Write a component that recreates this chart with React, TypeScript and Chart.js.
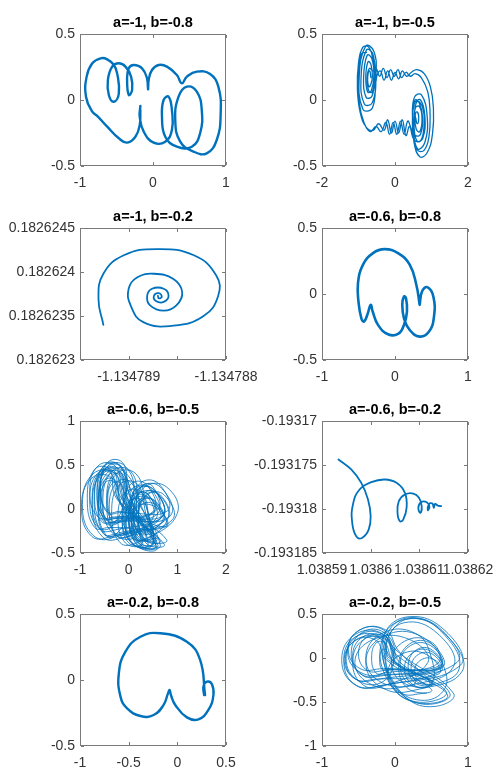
import { useEffect, useRef } from 'react';
import { Chart, registerables } from 'chart.js';

Chart.register(...registerables);

type Pt = [number, number];

// ---- phase portraits (x, y) ----
const orbitA1B08: Pt[] = [
  [-0.173, -0.045], [-0.182, -0.126], [-0.127, -0.24], [0.009, -0.323], [0.168, -0.316], [0.259, -0.227],
  [0.259, -0.076], [0.214, 0.025], [0.145, 0.0], [0.123, -0.126], [0.168, -0.278], [0.327, -0.354],
  [0.532, -0.354], [0.645, -0.253], [0.668, -0.076], [0.6, 0.063], [0.464, 0.101], [0.35, 0.025],
  [0.305, -0.152], [0.373, -0.316], [0.555, -0.391], [0.736, -0.404], [0.873, -0.303], [0.927, -0.101],
  [0.895, 0.101], [0.782, 0.197], [0.6, 0.215], [0.464, 0.177], [0.395, 0.126], [0.327, 0.189],
  [0.191, 0.253], [0.077, 0.265], [-0.014, 0.227], [-0.059, 0.152], [-0.068, 0.081], [-0.082, 0.164],
  [-0.15, 0.24], [-0.264, 0.265], [-0.332, 0.24], [-0.355, 0.152], [-0.332, 0.038], [-0.286, 0.076],
  [-0.3, 0.177], [-0.377, 0.253], [-0.468, 0.278], [-0.559, 0.253], [-0.618, 0.152], [-0.605, 0.038],
  [-0.536, -0.013], [-0.468, 0.051], [-0.491, 0.202], [-0.536, 0.265], [-0.627, 0.308], [-0.718, 0.316],
  [-0.832, 0.278], [-0.909, 0.177], [-0.918, 0.025], [-0.832, -0.088], [-0.755, -0.126], [-0.627, -0.202],
  [-0.468, -0.29], [-0.355, -0.323], [-0.241, -0.278], [-0.182, -0.189], [-0.173, -0.076],
];

const orbitA1B05: Pt[] = [
  [-0.66, 0.17], [-0.69, 0.22], [-0.73, 0.21], [-0.75, 0.15], [-0.71, 0.1], [-0.66, 0.12],
  [-0.62, 0.18], [-0.66, 0.27], [-0.74, 0.29], [-0.8, 0.17], [-0.75, 0.06], [-0.65, 0.07],
  [-0.58, 0.18], [-0.63, 0.31], [-0.76, 0.34], [-0.86, 0.17], [-0.79, 0.02], [-0.63, 0.03],
  [-0.55, 0.19], [-0.61, 0.35], [-0.78, 0.38], [-0.93, 0.17], [-0.84, -0.03], [-0.62, -0.02],
  [-0.52, 0.2], [-0.58, 0.37], [-0.8, 0.41], [-0.98, 0.18], [-0.88, -0.07], [-0.62, -0.06],
  [-0.5, 0.18], [-0.4, 0.22], [-0.3, 0.15], [-0.2, 0.22], [-0.1, 0.15], [0.0, 0.21], [0.1, 0.16],
  [0.2, 0.22], [0.32, 0.18], [0.45, 0.21], [0.6, 0.23], [0.8, 0.2], [0.97, 0.1], [1.05, -0.05],
  [1.03, -0.25], [0.88, -0.4], [0.68, -0.43], [0.52, -0.32], [0.48, -0.15],
  [0.53, 0.02], [0.72, 0.04], [0.88, -0.12], [0.82, -0.32], [0.62, -0.37], [0.5, -0.22],
  [0.53, -0.03], [0.7, 0.0], [0.82, -0.13], [0.76, -0.29], [0.6, -0.31], [0.52, -0.18],
  [0.56, -0.06], [0.67, -0.05], [0.74, -0.14], [0.68, -0.24], [0.58, -0.22], [0.55, -0.13],
  [0.6, -0.09], [0.65, -0.13], [0.61, -0.18], [0.57, -0.14],
  [0.54, -0.08], [0.62, -0.01], [0.76, -0.06], [0.8, -0.18], [0.7, -0.31], [0.52, -0.3],
  [0.4, -0.2], [0.3, -0.27], [0.2, -0.15], [0.1, -0.25], [0.0, -0.16], [-0.1, -0.25], [-0.2, -0.15],
  [-0.3, -0.23], [-0.45, -0.18], [-0.6, -0.23], [-0.78, -0.21], [-0.95, -0.1], [-1.03, 0.08],
  [-1.0, 0.28], [-0.88, 0.4], [-0.72, 0.4], [-0.6, 0.3], [-0.56, 0.18], [-0.62, 0.06], [-0.72, 0.07],
  [-0.76, 0.17], [-0.7, 0.24], [-0.6, 0.22], [-0.52, 0.24], [-0.42, 0.18], [-0.32, 0.24], [-0.22, 0.17],
  [-0.12, 0.23], [-0.02, 0.18], [0.08, 0.23], [0.18, 0.17], [0.3, 0.21], [0.42, 0.18], [0.55, 0.2],
  [0.72, 0.17], [0.9, 0.06], [0.96, -0.1], [0.93, -0.28], [0.8, -0.38], [0.62, -0.38], [0.5, -0.26],
  [0.48, -0.1], [0.55, 0.0], [0.66, -0.02], [0.75, -0.12], [0.7, -0.26], [0.56, -0.27], [0.45, -0.22],
  [0.35, -0.16], [0.25, -0.26], [0.15, -0.16], [0.05, -0.26], [-0.05, -0.17], [-0.15, -0.26],
  [-0.25, -0.17], [-0.38, -0.24], [-0.52, -0.2], [-0.68, -0.24], [-0.85, -0.17], [-0.98, -0.02],
  [-1.0, 0.2], [-0.92, 0.35], [-0.78, 0.36],
];

const orbitA1B02: Pt[] = [
  [-1.13478926, 0.1826234], [-1.13478931, 0.18262369], [-1.13478926, 0.18262398], [-1.13478905, 0.18262419],
  [-1.13478871, 0.18262426], [-1.13478833, 0.18262419], [-1.1347881, 0.18262396], [-1.13478808, 0.18262373],
  [-1.13478823, 0.1826235], [-1.13478854, 0.18262339], [-1.13478885, 0.18262343], [-1.13478898, 0.18262362],
  [-1.134789, 0.18262381], [-1.13478891, 0.18262394], [-1.13478874, 0.18262398], [-1.13478854, 0.18262392],
  [-1.13478845, 0.18262377], [-1.13478851, 0.18262362], [-1.13478864, 0.18262356], [-1.13478878, 0.18262362],
  [-1.13478881, 0.18262373], [-1.13478876, 0.18262381], [-1.13478864, 0.18262381], [-1.13478859, 0.18262373],
  [-1.13478864, 0.18262366], [-1.13478872, 0.18262367], [-1.13478874, 0.18262373], [-1.13478869, 0.18262376],
  [-1.13478866, 0.18262372], [-1.13478869, 0.1826237], [-1.1347887, 0.18262373],
];

const orbitA06B08: Pt[] = [
  [0.338, -0.082], [0.292, 0.07], [0.201, 0.222], [0.041, 0.31], [-0.142, 0.34], [-0.301, 0.31],
  [-0.438, 0.222], [-0.507, 0.082], [-0.498, -0.07], [-0.461, -0.184], [-0.425, -0.209], [-0.379, -0.158],
  [-0.333, -0.082], [-0.306, -0.133], [-0.233, -0.234], [-0.096, -0.305], [0.041, -0.303], [0.123, -0.234],
  [0.164, -0.133], [0.151, -0.032], [0.123, -0.019], [0.1, -0.082], [0.123, -0.184], [0.201, -0.272],
  [0.338, -0.323], [0.466, -0.285], [0.534, -0.171], [0.525, -0.019], [0.443, 0.052], [0.37, 0.019],
  [0.338, -0.082],
];

const orbitA06B05: Pt[] = [
  [-0.05, 0.15], [-0.2, 0.45], [-0.5, 0.45], [-0.65, 0.15], [-0.5, -0.15], [-0.2, -0.15],
  [-0.05, 0.1], [-0.22, 0.43], [-0.58, 0.43], [-0.75, 0.1], [-0.58, -0.23], [-0.22, -0.23],
  [0.7, -0.08], [0.52, 0.22], [0.18, 0.22], [0.0, -0.08], [0.18, -0.38], [0.52, -0.38],
  [-0.05, 0.12], [-0.18, 0.38], [-0.43, 0.38], [-0.55, 0.12], [-0.43, -0.14], [-0.18, -0.14],
  [0.6, -0.05], [0.45, 0.23], [0.15, 0.23], [0.0, -0.05], [0.15, -0.33], [0.45, -0.33],
  [0.35, -0.05], [0.18, 0.28], [-0.18, 0.28], [-0.35, -0.05], [-0.18, -0.38], [0.18, -0.38],
  [0.8, -0.12], [0.6, 0.17], [0.2, 0.17], [0.0, -0.12], [0.2, -0.41], [0.6, -0.41],
  [-0.05, 0.05], [-0.28, 0.4], [-0.73, 0.4], [-0.95, 0.05], [-0.73, -0.3], [-0.28, -0.3],
  [0.1, 0.18], [-0.08, 0.49], [-0.43, 0.49], [-0.6, 0.18], [-0.43, -0.13], [-0.08, -0.13],
  [0.2, 0.0], [0.05, 0.3], [-0.25, 0.3], [-0.4, 0.0], [-0.25, -0.3], [0.05, -0.3],
  [0.5, -0.1], [0.38, 0.14], [0.13, 0.14], [0.0, -0.1], [0.13, -0.34], [0.38, -0.34],
  [1.0, -0.05], [0.78, 0.25], [0.33, 0.25], [0.1, -0.05], [0.33, -0.35], [0.78, -0.35],
  [-0.18, 0.08], [-0.28, 0.3], [-0.48, 0.3], [-0.58, 0.08], [-0.48, -0.14], [-0.28, -0.14],
  [0.15, 0.05], [-0.08, 0.42], [-0.53, 0.42], [-0.75, 0.05], [-0.53, -0.32], [-0.08, -0.32],
  [0.68, -0.15], [0.49, 0.11], [0.11, 0.11], [-0.08, -0.15], [0.11, -0.41], [0.49, -0.41],
  [0.42, -0.1], [0.26, 0.19], [-0.06, 0.19], [-0.22, -0.1], [-0.06, -0.39], [0.26, -0.39],
  [-0.14, 0.14], [-0.28, 0.42], [-0.56, 0.42], [-0.7, 0.14], [-0.56, -0.14], [-0.28, -0.14],
  [0.6, 0.0], [0.49, 0.26], [0.27, 0.26], [0.16, 0.0], [0.27, -0.26], [0.49, -0.26],
  [0.05, 0.1], [-0.14, 0.48], [-0.52, 0.48], [-0.71, 0.1], [-0.52, -0.28], [-0.14, -0.28],
  [0.7, -0.08], [0.49, 0.23], [0.07, 0.23], [-0.14, -0.08], [0.07, -0.39], [0.49, -0.39],
  [0.35, 0.05], [0.15, 0.4], [-0.25, 0.4], [-0.45, 0.05], [-0.25, -0.3], [0.15, -0.3],
  [0.05, 0.12], [-0.08, 0.38], [-0.33, 0.38], [-0.45, 0.12], [-0.33, -0.14], [-0.08, -0.14],
  [0.8, -0.1], [0.65, 0.16], [0.35, 0.16], [0.2, -0.1], [0.35, -0.36], [0.65, -0.36],
  [-0.2, 0.1], [-0.35, 0.4], [-0.65, 0.4], [-0.8, 0.1], [-0.65, -0.2], [-0.35, -0.2],
  [-0.05, 0.2], [-0.2, 0.5], [-0.5, 0.5], [-0.65, 0.2], [-0.5, -0.1], [-0.2, -0.1],
  [0.63, -0.12], [0.49, 0.1], [0.21, 0.1], [0.07, -0.12], [0.21, -0.34], [0.49, -0.34],
  [0.43, -0.15], [0.29, 0.09], [0.01, 0.09], [-0.13, -0.15], [0.01, -0.39], [0.29, -0.39],
  [-0.13, 0.02], [-0.34, 0.35], [-0.76, 0.35], [-0.97, 0.02], [-0.76, -0.31], [-0.34, -0.31],
  [0.85, -0.08], [0.65, 0.25], [0.25, 0.25], [0.05, -0.08], [0.25, -0.41], [0.65, -0.41],
  [0.02, 0.25], [-0.13, 0.53], [-0.43, 0.53], [-0.58, 0.25], [-0.43, -0.03], [-0.13, -0.03],
  [0.75, -0.2], [0.58, 0.04], [0.23, 0.04], [0.05, -0.2], [0.23, -0.44], [0.58, -0.44],
  [-0.18, 0.15], [-0.29, 0.41], [-0.51, 0.41], [-0.62, 0.15], [-0.51, -0.11], [-0.29, -0.11],
  [0.5, -0.05], [0.4, 0.17], [0.2, 0.17], [0.1, -0.05], [0.2, -0.27], [0.4, -0.27],
  [0.02, 0.05], [-0.14, 0.4], [-0.46, 0.4], [-0.62, 0.05], [-0.46, -0.3], [-0.14, -0.3],
  [0.7, -0.15], [0.55, 0.09], [0.25, 0.09], [0.1, -0.15], [0.25, -0.39], [0.55, -0.39],
  [-0.1, 0.2], [-0.28, 0.49], [-0.63, 0.49], [-0.8, 0.2], [-0.63, -0.09], [-0.28, -0.09],
  [0.52, -0.02], [0.36, 0.28], [0.04, 0.28], [-0.12, -0.02], [0.04, -0.32], [0.36, -0.32],
  [-0.07, 0.1], [-0.16, 0.29], [-0.34, 0.29], [-0.43, 0.1], [-0.34, -0.09], [-0.16, -0.09],
  [0.7, -0.08], [0.58, 0.18], [0.33, 0.18], [0.2, -0.08], [0.33, -0.34], [0.58, -0.34],
  [-0.25, 0.12], [-0.4, 0.45], [-0.7, 0.45], [-0.85, 0.12], [-0.7, -0.21], [-0.4, -0.21],
  [0.77, -0.2], [0.56, 0.02], [0.14, 0.02], [-0.07, -0.2], [0.14, -0.42], [0.56, -0.42],
  [0.23, 0.08], [0.04, 0.43], [-0.34, 0.43], [-0.53, 0.08], [-0.34, -0.27], [0.04, -0.27],
  [0.9, -0.12], [0.73, 0.16], [0.38, 0.16], [0.2, -0.12], [0.38, -0.4], [0.73, -0.4],
  [-0.13, 0.02], [-0.26, 0.32], [-0.51, 0.32], [-0.63, 0.02], [-0.51, -0.28], [-0.26, -0.28],
  [0.55, -0.12], [0.4, 0.16], [0.1, 0.16], [-0.05, -0.12], [0.1, -0.4], [0.4, -0.4],
  [-0.02, 0.22], [-0.16, 0.48], [-0.44, 0.48], [-0.58, 0.22], [-0.44, -0.04], [-0.16, -0.04],
  [0.8, -0.02], [0.61, 0.29], [0.23, 0.29], [0.04, -0.02], [0.23, -0.33], [0.61, -0.33],
];

const orbitA06B02: Pt[] = [
  [1.03859338, -0.19317437], [1.038596, -0.19317551], [1.03859807, -0.19317703], [1.03859945, -0.19317892],
  [1.0386, -0.19318082], [1.03859959, -0.19318234], [1.03859821, -0.19318329], [1.03859703, -0.1931831],
  [1.03859621, -0.19318158], [1.03859635, -0.19317949], [1.03859772, -0.19317779], [1.03860014, -0.19317695],
  [1.0386029, -0.19317665], [1.03860531, -0.19317703], [1.03860704, -0.19317817], [1.03860738, -0.19317987],
  [1.03860669, -0.1931812], [1.038606, -0.19318139], [1.03860552, -0.19318044], [1.03860579, -0.19317911],
  [1.03860704, -0.19317836], [1.03860876, -0.19317824], [1.03860993, -0.19317873], [1.03861048, -0.19317968],
  [1.03861021, -0.19318044], [1.03860979, -0.19317987], [1.03861035, -0.19317923], [1.03861152, -0.19317923],
  [1.03861207, -0.19317976], [1.03861173, -0.19318014], [1.038612, -0.19317942], [1.03861269, -0.19317938],
  [1.03861297, -0.19317987], [1.03861324, -0.19317942], [1.03861379, -0.19317961], [1.03861448, -0.19317968],
];

const orbitA02B08: Pt[] = [
  [0.285, -0.114], [0.234, 0.152], [0.098, 0.29], [-0.175, 0.354], [-0.379, 0.328], [-0.533, 0.215],
  [-0.601, 0.051], [-0.584, -0.126], [-0.516, -0.215], [-0.379, -0.273], [-0.243, -0.265], [-0.141, -0.189],
  [-0.096, -0.101], [-0.079, -0.076], [-0.066, -0.114], [-0.021, -0.189], [0.098, -0.283], [0.217, -0.298],
  [0.319, -0.227], [0.371, -0.114], [0.354, -0.03], [0.302, -0.013], [0.268, -0.051], [0.275, -0.114],
];

const orbitA02B05: Pt[] = [
  [0.03, 0.0], [-0.15, 0.26], [-0.5, 0.26], [-0.67, 0.0], [-0.5, -0.26], [-0.15, -0.26],
  [-0.02, 0.02], [-0.16, 0.24], [-0.44, 0.24], [-0.58, 0.02], [-0.44, -0.2], [-0.16, -0.2],
  [0.62, -0.1], [0.51, 0.09], [0.29, 0.09], [0.18, -0.1], [0.29, -0.29], [0.51, -0.29],
  [0.03, -0.02], [-0.16, 0.27], [-0.54, 0.27], [-0.73, -0.02], [-0.54, -0.31], [-0.16, -0.31],
  [0.9, -0.08], [0.7, 0.3], [0.2, 0.47], [-0.15, 0.25], [-0.05, -0.25], [0.35, -0.52], [0.75, -0.4],
  [0.0, 0.05], [-0.13, 0.24], [-0.38, 0.24], [-0.5, 0.05], [-0.38, -0.14], [-0.13, -0.14],
  [0.63, -0.08], [0.49, 0.14], [0.21, 0.14], [0.07, -0.08], [0.21, -0.3], [0.49, -0.3],
  [0.5, 0.0], [0.28, 0.28], [-0.18, 0.28], [-0.4, 0.0], [-0.18, -0.28], [0.28, -0.28],
  [-0.06, 0.0], [-0.22, 0.24], [-0.54, 0.24], [-0.7, 0.0], [-0.54, -0.24], [-0.22, -0.24],
  [0.85, -0.05], [0.62, 0.32], [0.15, 0.44], [-0.18, 0.2], [-0.08, -0.28], [0.3, -0.5], [0.7, -0.38],
  [-0.09, -0.02], [-0.12, 0.09], [-0.18, 0.09], [-0.21, -0.02], [-0.18, -0.13], [-0.12, -0.13],
  [0.62, -0.12], [0.52, 0.04], [0.32, 0.04], [0.22, -0.12], [0.32, -0.28], [0.52, -0.28],
  [0.02, -0.05], [-0.13, 0.21], [-0.43, 0.21], [-0.58, -0.05], [-0.43, -0.31], [-0.13, -0.31],
  [0.45, -0.05], [0.2, 0.21], [-0.3, 0.21], [-0.55, -0.05], [-0.3, -0.31], [0.2, -0.31],
  [0.8, -0.1], [0.58, 0.28], [0.12, 0.4], [-0.12, 0.15], [0.0, -0.3], [0.35, -0.48], [0.68, -0.35],
  [0.65, -0.05], [0.48, 0.19], [0.13, 0.19], [-0.05, -0.05], [0.13, -0.29], [0.48, -0.29],
  [0.05, 0.08], [-0.13, 0.32], [-0.48, 0.32], [-0.65, 0.08], [-0.48, -0.16], [-0.13, -0.16],
  [0.0, 0.05], [-0.15, 0.29], [-0.45, 0.29], [-0.6, 0.05], [-0.45, -0.19], [-0.15, -0.19],
  [0.63, -0.12], [0.51, 0.07], [0.26, 0.07], [0.13, -0.12], [0.26, -0.31], [0.51, -0.31],
  [0.88, -0.12], [0.68, 0.26], [0.25, 0.46], [-0.1, 0.28], [-0.1, -0.2], [0.25, -0.5], [0.72, -0.42],
  [0.0, -0.05], [-0.18, 0.21], [-0.53, 0.21], [-0.7, -0.05], [-0.53, -0.31], [-0.18, -0.31],
  [0.63, -0.15], [0.54, -0.02], [0.36, -0.02], [0.27, -0.15], [0.36, -0.28], [0.54, -0.28],
  [-0.08, 0.0], [-0.14, 0.17], [-0.26, 0.17], [-0.32, 0.0], [-0.26, -0.17], [-0.14, -0.17],
  [0.6, -0.05], [0.35, 0.25], [-0.15, 0.25], [-0.4, -0.05], [-0.15, -0.35], [0.35, -0.35],
  [0.92, -0.15], [0.75, 0.22], [0.3, 0.45], [-0.05, 0.3], [-0.12, -0.1], [0.15, -0.45], [0.55, -0.55], [0.8, -0.4],
  [0.0, 0.1], [-0.16, 0.32], [-0.48, 0.32], [-0.64, 0.1], [-0.48, -0.12], [-0.16, -0.12],
  [0.65, -0.1], [0.5, 0.16], [0.2, 0.16], [0.05, -0.1], [0.2, -0.36], [0.5, -0.36],
  [-0.12, -0.02], [-0.26, 0.2], [-0.54, 0.2], [-0.68, -0.02], [-0.54, -0.24], [-0.26, -0.24],
  [0.6, -0.18], [0.43, 0.04], [0.08, 0.04], [-0.1, -0.18], [0.08, -0.4], [0.43, -0.4],
];

// ---- axis ticks ----
const ticksUnit = [-1, 0, 1];
const ticksTwo = [-2, 0, 2];
const ticksHalf = [-0.5, 0, 0.5];
const ticksHalfToOne = [-0.5, 0, 0.5, 1];
const ticksMinusOneToTwo = [-1, 0, 1, 2];
const ticksMinusOneToHalf = [-1, -0.5, 0, 0.5];
const ticksX3 = [-1.1347895, -1.134789, -1.1347885, -1.134788];
const labelsX3 = ['', '-1.134789', '', '-1.134788'];
const ticksY3 = [0.182623, 0.1826235, 0.182624, 0.1826245];
const ticksX6 = [1.03859, 1.0386, 1.03861, 1.03862];
const ticksY6 = [-0.193185, -0.19318, -0.193175, -0.19317];

const FONT = "'Liberation Sans', Arial, Helvetica, sans-serif";
const LINE_BLUE = '#0072BD';
const TITLE_H = 24;
const BOX_H = 132;
const XAXIS_H = 35;

interface Column { left: number; width: number; axisWidth: number; padRight: number; }
const COL_L: Column = { left: 0, width: 262, axisWidth: 80, padRight: 36 };
const COL_R: Column = { left: 245, width: 248, axisWidth: 77, padRight: 25 };

interface AxisSpec { min: number; max: number; ticks: number[]; labels: string[]; }
interface PanelSpec {
  title: string;
  pts: Pt[];
  lineWidth: number;
  x: AxisSpec;
  y: AxisSpec;
  col: Column;
  boxTop: number;
}

const axis = (min: number, max: number, ticks: number[], labels?: string[]): AxisSpec => ({
  min, max, ticks, labels: labels ?? ticks.map((v) => String(v)),
});

const panels: PanelSpec[] = [
  { title: 'a=-1, b=-0.8', pts: orbitA1B08, lineWidth: 2.4, x: axis(-1, 1, ticksUnit), y: axis(-0.5, 0.5, ticksHalf), col: COL_L, boxTop: 34 },
  { title: 'a=-1, b=-0.5', pts: orbitA1B05, lineWidth: 1.3, x: axis(-2, 2, ticksTwo), y: axis(-0.5, 0.5, ticksHalf), col: COL_R, boxTop: 34 },
  { title: 'a=-1, b=-0.2', pts: orbitA1B02, lineWidth: 1.8, x: axis(-1.1347895, -1.134788, ticksX3, labelsX3), y: axis(0.182623, 0.1826245, ticksY3), col: COL_L, boxTop: 228 },
  { title: 'a=-0.6, b=-0.8', pts: orbitA06B08, lineWidth: 2.6, x: axis(-1, 1, ticksUnit), y: axis(-0.5, 0.5, ticksHalf), col: COL_R, boxTop: 228 },
  { title: 'a=-0.6, b=-0.5', pts: orbitA06B05, lineWidth: 0.8, x: axis(-1, 2, ticksMinusOneToTwo), y: axis(-0.5, 1, ticksHalfToOne), col: COL_L, boxTop: 421 },
  { title: 'a=-0.6, b=-0.2', pts: orbitA06B02, lineWidth: 1.8, x: axis(1.03859, 1.03862, ticksX6), y: axis(-0.193185, -0.19317, ticksY6), col: COL_R, boxTop: 421 },
  { title: 'a=-0.2, b=-0.8', pts: orbitA02B08, lineWidth: 2.4, x: axis(-1, 0.5, ticksMinusOneToHalf), y: axis(-0.5, 0.5, ticksHalf), col: COL_L, boxTop: 614 },
  { title: 'a=-0.2, b=-0.5', pts: orbitA02B05, lineWidth: 0.8, x: axis(-1, 1, ticksUnit), y: axis(-1, 0.5, ticksMinusOneToHalf), col: COL_R, boxTop: 614 },
];

// Box outline with short inward tick marks on all four sides.
const axesBox = {
  id: 'axesBox',
  afterDatasetsDraw(chart: any) {
    const { ctx, chartArea, scales } = chart;
    const { left, top, right, bottom } = chartArea;
    const len = 3;
    ctx.save();
    ctx.strokeStyle = '#7a7a7a';
    ctx.lineWidth = 1;
    ctx.strokeRect(left + 0.5, top + 0.5, right - left - 1, bottom - top - 1);
    ctx.beginPath();
    scales.x.ticks.forEach((t: any) => {
      const px = Math.round(scales.x.getPixelForValue(t.value)) + 0.5;
      ctx.moveTo(px, bottom - 1);
      ctx.lineTo(px, bottom - 1 - len);
      ctx.moveTo(px, top + 1);
      ctx.lineTo(px, top + 1 + len);
    });
    scales.y.ticks.forEach((t: any) => {
      const py = Math.round(scales.y.getPixelForValue(t.value)) + 0.5;
      ctx.moveTo(left + 1, py);
      ctx.lineTo(left + 1 + len, py);
      ctx.moveTo(right - 1, py);
      ctx.lineTo(right - 1 - len, py);
    });
    ctx.stroke();
    ctx.restore();
  },
};

function Panel({ spec }: { spec: PanelSpec }) {
  const ref = useRef<HTMLCanvasElement>(null);
  const height = TITLE_H + BOX_H + XAXIS_H;

  useEffect(() => {
    const canvas = ref.current;
    if (!canvas) return;
    const tickFont = { family: FONT, size: 14 };
    const chart = new Chart(canvas, {
      type: 'scatter',
      data: {
        datasets: [
          {
            data: spec.pts.map(([x, y]) => ({ x, y })),
            showLine: true,
            borderColor: LINE_BLUE,
            backgroundColor: LINE_BLUE,
            borderWidth: spec.lineWidth,
            pointRadius: 0,
            pointHoverRadius: 0,
            tension: 0.45,
            borderJoinStyle: 'round',
            borderCapStyle: 'round',
            fill: false,
          } as any,
        ],
      },
      options: {
        responsive: false,
        animation: false,
        events: [],
        layout: { padding: { top: 0, left: 0, bottom: 0, right: spec.col.padRight } },
        plugins: {
          legend: { display: false },
          tooltip: { enabled: false },
          title: {
            display: true,
            text: spec.title,
            fullSize: false,
            color: '#000',
            font: { family: FONT, size: 14.5, weight: 'bold', lineHeight: 1.2 },
            padding: { top: 4.6, bottom: 2 },
          },
        },
        scales: {
          x: {
            type: 'linear',
            position: 'bottom',
            min: spec.x.min,
            max: spec.x.max,
            grid: { display: false, drawTicks: false },
            border: { display: false },
            ticks: {
              autoSkip: false,
              maxRotation: 0,
              minRotation: 0,
              padding: 9,
              color: '#333',
              font: tickFont,
              callback: (_v: any, i: number) => spec.x.labels[i],
            },
            afterBuildTicks: (scale: any) => {
              scale.ticks = spec.x.ticks.map((value) => ({ value }));
            },
            afterFit: (scale: any) => {
              scale.height = XAXIS_H;
              scale.paddingLeft = 0;
              scale.paddingRight = 0;
            },
          },
          y: {
            type: 'linear',
            position: 'left',
            min: spec.y.min,
            max: spec.y.max,
            grid: { display: false, drawTicks: false },
            border: { display: false },
            ticks: {
              autoSkip: false,
              padding: 5,
              color: '#333',
              font: tickFont,
              callback: (_v: any, i: number) => spec.y.labels[i],
            },
            afterBuildTicks: (scale: any) => {
              scale.ticks = spec.y.ticks.map((value) => ({ value }));
            },
            afterFit: (scale: any) => {
              scale.width = spec.col.axisWidth;
              scale.paddingTop = 0;
              scale.paddingBottom = 0;
            },
          },
        },
      } as any,
      plugins: [axesBox],
    });
    return () => chart.destroy();
  }, [spec]);

  return (
    <canvas
      ref={ref}
      width={spec.col.width}
      height={height}
      style={{
        position: 'absolute',
        left: spec.col.left,
        top: spec.boxTop - TITLE_H,
        width: spec.col.width,
        height,
      }}
    />
  );
}

export default function App() {
  return (
    <div
      style={{
        position: 'absolute',
        left: 0,
        top: 0,
        width: 493,
        height: 771,
        overflow: 'hidden',
        background: '#fff',
      }}
    >
      {panels.map((p) => (
        <Panel key={p.title} spec={p} />
      ))}
    </div>
  );
}
